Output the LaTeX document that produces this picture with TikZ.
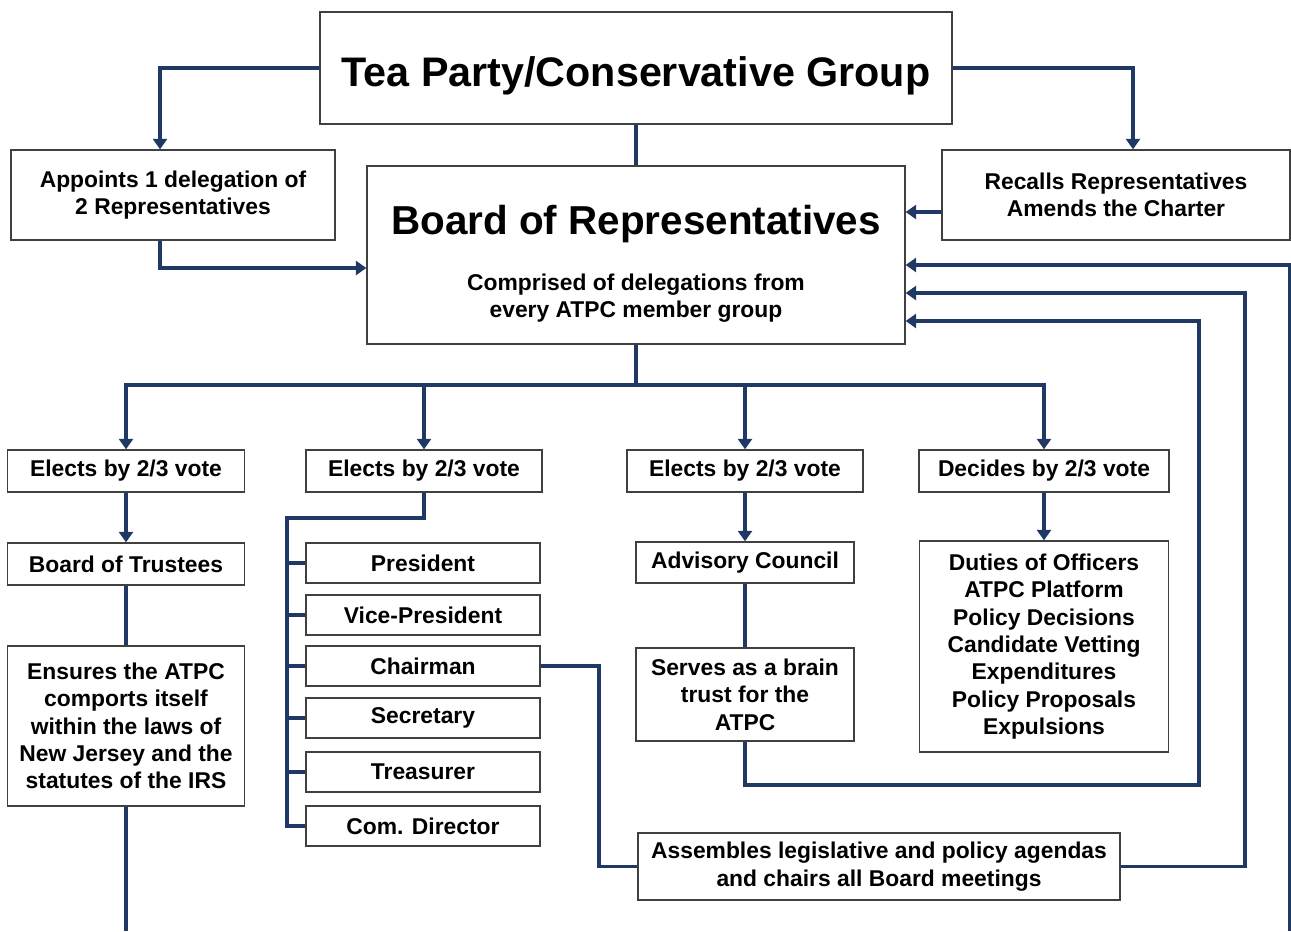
\documentclass[tikz,border=0pt]{standalone}
\usepackage{fontspec}
\setmainfont{Liberation Sans}
\usepackage{xcolor}
\usetikzlibrary{
	arrows.meta
}
\definecolor{navy}{RGB}{31,56,100}
\newcommand{\hugetext}[1]{{\fontsize{23.5pt}{28pt}\selectfont #1}}

\begin{document}
\begin{tikzpicture}[x=0.02cm,y=-0.02cm,
		font=\bfseries\fontsize{13pt}{15.6pt}\selectfont,
		box/.style={draw=black!75,line width=0.8pt,fill=white,align=center,inner sep=0pt},
		officer/.style={box,minimum width=4.68cm,minimum height=0.8cm},
		vote/.style={box,minimum height=0.84cm},
		link/.style={draw=navy,line width=2.2pt},
		arr/.style={link,-{Triangle[length=6pt,width=8pt]}}
	]
	\useasboundingbox (0,0) rectangle (1291,931);

	% top
	\node[box,minimum width=12.64cm,minimum height=2.24cm] (tea) at (636,68) {\rule{0pt}{26pt}\hugetext{Tea Party/Conservative Group}};
	\node[box,minimum width=6.48cm,minimum height=1.8cm] (appoint) at (173,195) {Appoints 1 delegation of\\2 Representatives};
	\node[box,minimum width=6.96cm,minimum height=1.8cm] (recall) at (1116,195) {Recalls Representatives\\Amends the Charter};
	\node[box,minimum width=10.76cm,minimum height=3.56cm] (board) at (636,255) {\rule{0pt}{27pt}{\fontsize{23pt}{28pt}\selectfont Board of Representatives}\\[16pt]Comprised of delegations from\\every ATPC member group};

	% votes
	\node[vote,minimum width=4.74cm] (elect1) at (126,471) {Elects by 2/3 vote};
	\node[vote,minimum width=4.72cm] (elect2) at (424,471) {Elects by 2/3 vote};
	\node[vote,minimum width=4.72cm] (elect3) at (745,471) {Elects by 2/3 vote};
	\node[vote,minimum width=5cm] (decide) at (1044,471) {Decides by 2/3 vote};

	% left column
	\node[vote,minimum width=4.74cm] (trustees) at (126,564) {Board of Trustees};
	\node[box,minimum width=4.74cm,minimum height=3.2cm] (ensures) at (126,726) {Ensures the ATPC\\comports itself\\within the laws of\\New Jersey and the\\statutes of the IRS};

	% officers
	\foreach \n/\t/\y in {pres/President/563,vice/Vice-President/615,chair/Chairman/666,secr/Secretary/718,treas/Treasurer/772,comdir/Com. Director/826}
		\node[officer] (\n) at (423,\y) {\t};

	% right columns
	\node[box,minimum width=4.36cm,minimum height=0.82cm] (advisory) at (745,562.5) {Advisory Council};
	\node[box,minimum width=4.36cm,minimum height=1.86cm] (serves) at (745,694.5) {Serves as a brain\\trust for the\\ATPC};
	\node[box,minimum width=4.98cm,minimum height=4.22cm] (duties) at (1044,646.5) {Duties of Officers\\ATPC Platform\\Policy Decisions\\Candidate Vetting\\Expenditures\\Policy Proposals\\Expulsions};
	\node[box,minimum width=9.64cm,minimum height=1.34cm] (assemble) at (879,866.5) {Assembles legislative and policy agendas\\and chairs all Board meetings};

	\coordinate (hub) at (636,385);
	\coordinate (spine) at (287,518);
	\coordinate (redge) at (1290,931);
	\coordinate (lbot) at (126,931);

	% connectors
	\draw[arr] (tea.west) -| ([xshift=-0.26cm]appoint.north);
	\draw[arr] (tea.east) -| ([xshift=0.34cm]recall.north);
	\draw[link] (tea.south) -- (board.north);
	\draw[arr] ([xshift=-0.26cm]appoint.south) |- ([yshift=-0.26cm]board.west);
	\draw[arr] ([yshift=-0.34cm]recall.west) -- ([yshift=0.86cm]board.east);
	\draw[arr] (redge) |- ([yshift=-0.2cm]board.east);
	\draw[arr] (assemble.east) -- ++(124,0) |- ([yshift=-0.76cm]board.east);
	\draw[arr] (serves.south) -- ++(0,43) -- ++(454,0) |- ([yshift=-1.32cm]board.east);

	\draw[link] (board.south) -- (hub);
	\foreach \n in {elect1,elect2,elect3,decide}
		\draw[arr] (hub) -| (\n.north);

	\draw[arr] (elect1.south) -- (trustees.north);
	\draw[link] (trustees.south) -- (ensures.north);
	\draw[link] (ensures.south) -- (lbot);

	\draw[link] (elect2.south) |- (spine) |- (comdir.west);
	\foreach \n in {pres,vice,chair,secr,treas}
		\draw[link] (spine |- \n.west) -- (\n.west);
	\draw[link] (chair.east) -- ++(58,0) |- (assemble.west);

	\draw[arr] (elect3.south) -- (advisory.north);
	\draw[link] (advisory.south) -- (serves.north);
	\draw[arr] (decide.south) -- (duties.north);
\end{tikzpicture}
\end{document}
